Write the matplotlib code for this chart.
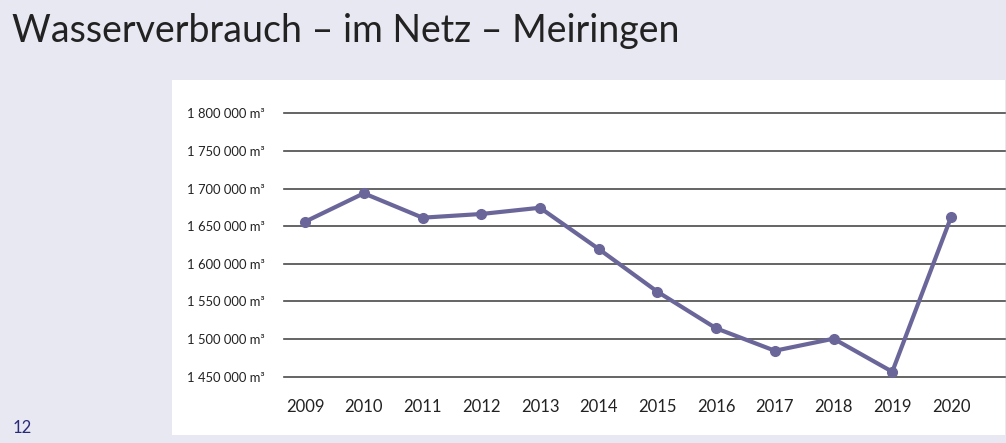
import matplotlib.pyplot as plt

years = ["2009", "2010", "2011", "2012", "2013", "2014", "2015", "2016", "2017", "2018", "2019", "2020"]
verbrauch = [1656000, 1693700, 1661300, 1666200, 1674500, 1619700, 1562900, 1514300, 1484500, 1500500, 1456600, 1661800]
y_ticks = [1450000, 1500000, 1550000, 1600000, 1650000, 1700000, 1750000, 1800000]

def fmt(v):
    # spaces as thousand separators, like the original
    return f"{v:,}".replace(",", " ") + " m³"

W, H = 1006, 443
fig = plt.figure(figsize=(W / 100, H / 100), dpi=100)
fig.patch.set_facecolor("#e8e8f2")

# white panel behind the chart
bg = fig.add_axes([172 / W, 1 - 435 / H, (1005 - 172) / W, (435 - 80) / H], zorder=0)
bg.set_facecolor("white")
bg.set_xticks([])
bg.set_yticks([])
for s in bg.spines.values():
    s.set_visible(False)

fig.text(12 / W, 1 - 31 / H, "Wasserverbrauch – im Netz – Meiringen", fontsize=27,
         family=["Lato", "DejaVu Sans"], color="#222222", va="center", ha="left")
fig.text(13 / W, 1 - 428 / H, "12", fontsize=12, color="#2a2a7a", va="center", ha="left",
         family=["Lato", "DejaVu Sans"])

ax = fig.add_axes([284 / W, 1 - 376.7 / H, (1005 - 284) / W, (376.7 - 113.3) / H], zorder=2)
ax.set_facecolor("none")
ax.set_ylim(1450000, 1800000)
ax.set_xlim(-0.36, 11.92)

ax.set_yticks(y_ticks)
ax.set_yticklabels([fmt(v) for v in y_ticks], family=["Lato", "DejaVu Sans"],
                   fontsize=9.4, color="#222222")
ax.set_xticks(range(len(years)))
ax.set_xticklabels(years, family=["Lato", "DejaVu Sans"], fontsize=12, color="#222222")
ax.tick_params(axis="y", length=0, pad=14)
ax.tick_params(axis="x", length=0, pad=16)

for v in y_ticks:
    ax.axhline(v, color="#4a4a4a", linewidth=1.2, zorder=1, clip_on=False)

ax.plot(range(len(years)), verbrauch, color="#6b6699", linewidth=3, marker="o", markersize=7,
        zorder=3, clip_on=False)

for s in ax.spines.values():
    s.set_visible(False)

fig.savefig("out.png", dpi=100, facecolor=fig.get_facecolor())
